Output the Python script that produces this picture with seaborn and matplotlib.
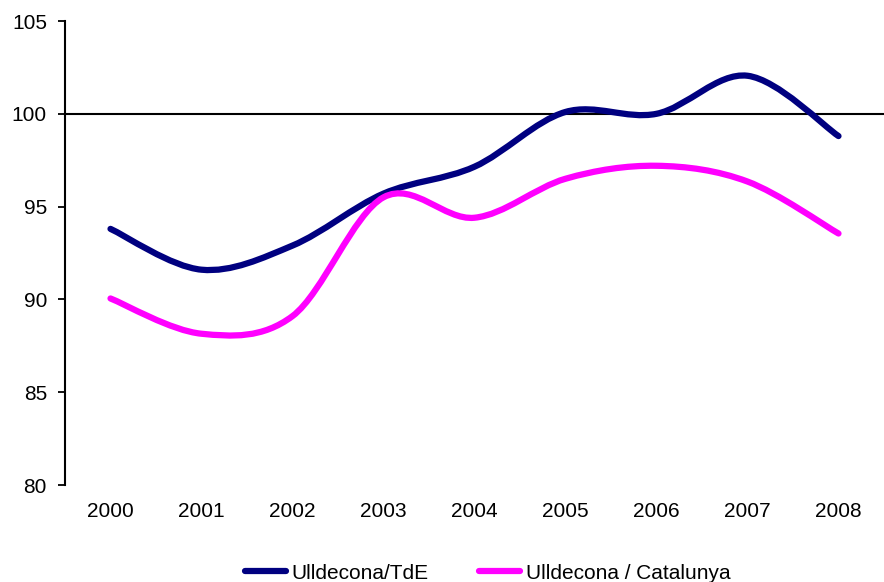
import numpy as np
import pandas as pd
import matplotlib
matplotlib.use("Agg")
import matplotlib.pyplot as plt
import seaborn as sns
from matplotlib.path import Path
from matplotlib.patches import PathPatch
from matplotlib.lines import Line2D

years = [2000, 2001, 2002, 2003, 2004, 2005, 2006, 2007, 2008]
tde = [93.8, 91.6, 92.9, 95.7, 97.15, 100.1, 100.0, 102.05, 98.8]
catalunya = [90.05, 88.15, 89.1, 95.5, 94.4, 96.5, 97.2, 96.35, 93.55]
series_names = ["Ulldecona/TdE", "Ulldecona / Catalunya"]
colors = ["#000080", "#FF00FF"]
yticks = [80, 85, 90, 95, 100, 105]

sns.set_style("white")
plt.rcParams["font.family"] = ["Liberation Sans", "DejaVu Sans"]
plt.rcParams["text.color"] = "black"
plt.rcParams["xtick.color"] = "black"
plt.rcParams["ytick.color"] = "black"
plt.rcParams["xtick.labelcolor"] = "black"
plt.rcParams["ytick.labelcolor"] = "black"

df = pd.DataFrame({"year": years * 2,
                   "value": tde + catalunya,
                   "serie": [series_names[0]] * len(years) + [series_names[1]] * len(years)})

fig = plt.figure(figsize=(8.84, 5.82), dpi=100)
ax = fig.add_axes([65 / 884, 1 - 485 / 582, 1 - 65 / 884, (485 - 21) / 582])

LW = 4.5
sns.lineplot(data=df, x="year", y="value", hue="serie", palette=colors,
             ax=ax, legend=False, linewidth=LW)


def smooth_path(xs, ys):
    pts = np.column_stack([xs, ys]).astype(float)
    verts = [pts[0]]
    codes = [Path.MOVETO]
    n = len(pts)
    for i in range(n - 1):
        p0 = pts[i - 1] if i > 0 else pts[i]
        p1 = pts[i]
        p2 = pts[i + 1]
        p3 = pts[i + 2] if i + 2 < n else pts[i + 1]
        c1 = p1 + (p2 - p0) / 6.0
        c2 = p2 - (p3 - p1) / 6.0
        verts += [c1, c2, p2]
        codes += [Path.CURVE4] * 3
    return Path(verts, codes)


# replace straight seaborn lines with smoothed versions of the same data
for line in list(ax.get_lines()):
    xd, yd = line.get_xdata(), line.get_ydata()
    if len(xd) < 2:
        continue
    patch = PathPatch(smooth_path(xd, yd), facecolor="none", edgecolor=line.get_color(),
                      linewidth=LW, capstyle="round", joinstyle="round", zorder=3)
    ax.add_patch(patch)
    line.set_visible(False)

ax.set_xlim(years[0] - 0.5, years[-1] + 0.5)
ax.set_ylim(yticks[0], yticks[-1])
ax.set_yticks(yticks)
ax.set_xlabel("")
ax.set_ylabel("")

for s in ["top", "right"]:
    ax.spines[s].set_visible(False)
ax.spines["left"].set_linewidth(1.5)
ax.spines["left"].set_color("black")
ax.spines["bottom"].set_position(("data", 100))
ax.spines["bottom"].set_linewidth(1.5)
ax.spines["bottom"].set_color("black")

boundaries = [y + 0.5 for y in years[:-1]]
ax.set_xticks(boundaries)
ax.set_xticklabels([])
ax.tick_params(axis="x", direction="out", length=3.5, width=1.2, color="black")
ax.tick_params(axis="y", direction="out", length=5, width=1.3, color="black",
               labelsize=15, pad=8, left=True, labelcolor="black")

sec = ax.secondary_xaxis(0)
sec.set_xticks(years)
sec.set_xticklabels([str(y) for y in years])
sec.tick_params(length=0, labelsize=15, pad=12, labelcolor="black")
sec.spines["bottom"].set_visible(False)

handles = [Line2D([0], [0], color=c, linewidth=LW, solid_capstyle="round") for c in colors]
fig.legend(handles, series_names, loc="center", bbox_to_anchor=(0.5515, 0.015), ncol=2,
           frameon=False, fontsize=15, handlelength=2.0, handletextpad=0.25,
           columnspacing=2.4, labelcolor="black")

fig.savefig("out.png", dpi=100)
